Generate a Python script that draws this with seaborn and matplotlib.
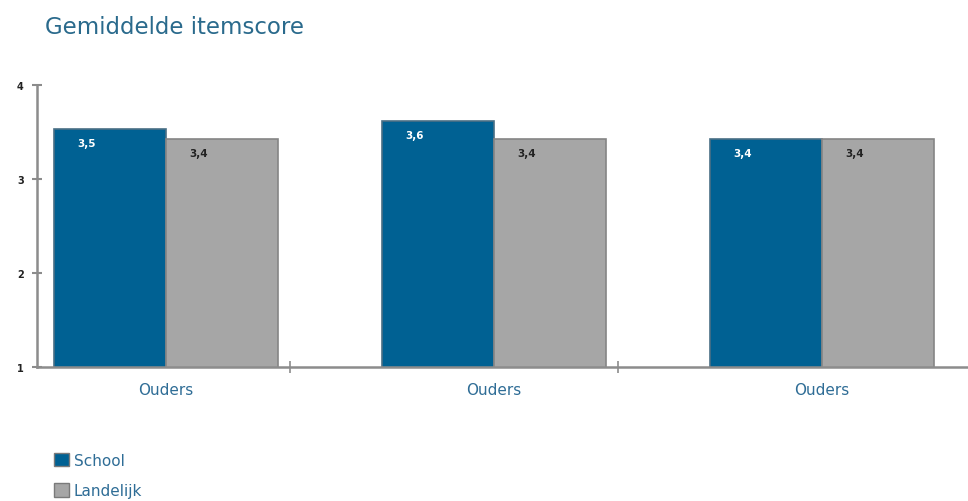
import matplotlib
matplotlib.use("Agg")
import matplotlib.pyplot as plt
import seaborn as sns
import pandas as pd
from matplotlib.patches import Patch

categories = ["Ouders", "Ouders", "Ouders"]
series = ["School", "Landelijk"]
school = [3.53, 3.62, 3.43]
landelijk = [3.43, 3.43, 3.43]
school_labels = ["3,5", "3,6", "3,4"]
landelijk_labels = ["3,4", "3,4", "3,4"]

colors = {"School": "#006193", "Landelijk": "#a6a6a6"}
edge = {"School": "#4a6f85", "Landelijk": "#858585"}
blue_text = "#2f6d96"

rows = []
for i, c in enumerate(categories):
    rows.append({"pos": i, "serie": "School", "val": school[i]})
    rows.append({"pos": i, "serie": "Landelijk", "val": landelijk[i]})
df = pd.DataFrame(rows)

sns.set_theme(style="white")
plt.rcParams["font.family"] = ["DejaVu Sans"]

fig = plt.figure(figsize=(9.68, 5.02), dpi=100)
ax = fig.add_axes([37 / 968, 1 - 368 / 502, 1 - 37 / 968, (368 - 86) / 502])

sns.barplot(data=df, x="pos", y="val", hue="serie", hue_order=series,
            palette=colors, width=0.683, gap=0, ax=ax, legend=False,
            saturation=1, errorbar=None)

ax.set_ylim(1, 4)
ax.set_xlim(-0.393, 2.445)

# bar edges and labels
labels_by_serie = {"School": school_labels, "Landelijk": landelijk_labels}
for cont, s in zip(ax.containers, series):
    for patch, lab in zip(cont.patches, labels_by_serie[s]):
        patch.set_edgecolor(edge[s])
        patch.set_linewidth(1.2)
        x = patch.get_x() + patch.get_width() * 0.29
        y = patch.get_height() - 0.15
        ax.text(x, y, lab, ha="center", va="center", fontsize=7.5,
                fontweight="bold",
                color="white" if s == "School" else "#222222")

for sp in ["top", "right"]:
    ax.spines[sp].set_visible(False)
for sp in ["left", "bottom"]:
    ax.spines[sp].set_color("#8c8c8c")
    ax.spines[sp].set_linewidth(1.8)

ax.set_yticks([1, 2, 3, 4])
ax.set_yticklabels(["1", "2", "3", "4"], fontsize=7, fontweight="bold", color="#222222")
ax.tick_params(axis="y", direction="inout", length=7, width=1.5, color="#8c8c8c", pad=6, left=True)

ax.set_xticks(range(len(categories)))
ax.set_xticklabels(categories, fontsize=11, color=blue_text)
ax.tick_params(axis="x", length=0, pad=11)
ax.set_xticks([0.378, 1.378], minor=True)
ax.tick_params(axis="x", which="minor", direction="inout", length=8, width=1.2, color="#8c8c8c", bottom=True)

ax.set_xlabel("")
ax.set_ylabel("")
ax.grid(False)

fig.text(45 / 968, 1 - 27 / 502, "Gemiddelde itemscore", fontsize=16.5,
         color="#2a6a8c", ha="left", va="center")

handles = [Patch(facecolor=colors[s], edgecolor="#7a7a7a", linewidth=1) for s in series]
leg = fig.legend(handles, series, loc="upper left",
                 bbox_to_anchor=(40 / 968, 1 - 440 / 502), frameon=False,
                 handlelength=1.0, handleheight=1.0, handletextpad=0.3,
                 labelspacing=1.0, fontsize=11)
for t in leg.get_texts():
    t.set_color(blue_text)

fig.savefig("out.png", dpi=100)
